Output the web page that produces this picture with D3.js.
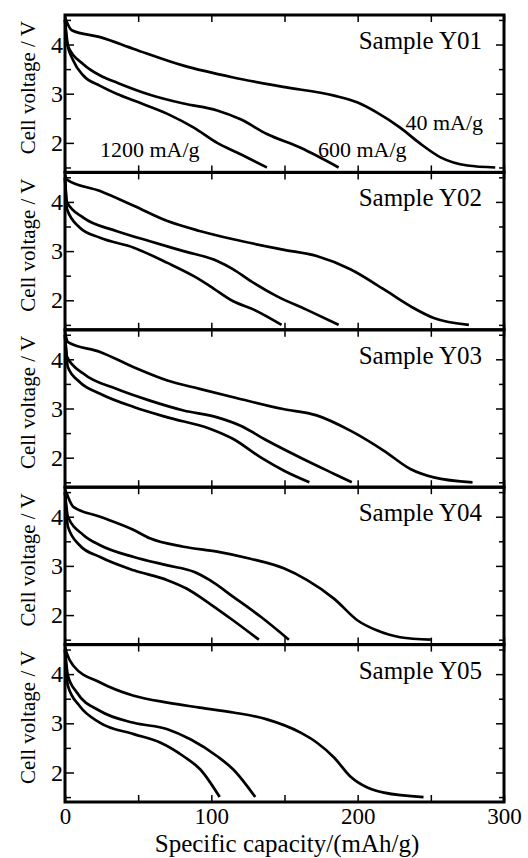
<!DOCTYPE html>
<html>
<head>
<meta charset="utf-8">
<script src="https://cdn.jsdelivr.net/npm/d3@7"></script>
<style>
  body { margin: 0; background: #fff; }
</style>
</head>
<body>
<div id="chart"></div>
<script>
// discharge curves: [capacity mAh/g, voltage V]
const samples = ["Sample Y01", "Sample Y02", "Sample Y03", "Sample Y04", "Sample Y05"];
const rates = ["40 mA/g", "600 mA/g", "1200 mA/g"];

const y01_40 = [[0,4.55],[4.6,4.29],[24,4.15],[47,3.91],[81,3.57],[115,3.33],[149,3.14],[184,2.96],[200,2.82],[213,2.62],[229,2.31],[243,1.98],[257,1.70],[275,1.54],[294,1.5]];
const y01_600 = [[0,4.5],[2.3,3.95],[12.5,3.6],[24,3.37],[36,3.22],[58,2.98],[81,2.8],[104,2.66],[120,2.48],[138,2.18],[161,1.9],[187,1.5]];
const y01_1200 = [[0,4.5],[1.1,4.08],[5.7,3.67],[12.5,3.37],[24,3.16],[36,2.99],[47,2.86],[70,2.59],[88,2.31],[104,2.0],[120,1.77],[138,1.5]];

const y02_40 = [[0,4.55],[1,4.46],[24,4.22],[47,3.92],[70,3.61],[92,3.41],[115,3.24],[149,3.03],[172,2.9],[195,2.63],[218,2.22],[236,1.88],[252,1.64],[276,1.5]];
const y02_600 = [[0,4.5],[1.4,3.99],[12.5,3.68],[35,3.41],[58,3.2],[81,3.0],[104,2.8],[115,2.63],[127,2.39],[145,2.08],[165,1.81],[187,1.5]];
const y02_1200 = [[0,4.5],[1.4,3.85],[10,3.48],[24,3.27],[47,3.07],[70,2.76],[88,2.49],[99,2.29],[115,1.98],[129,1.81],[148,1.5]];

const y03_40 = [[0,4.55],[2,4.35],[24,4.15],[47,3.84],[70,3.57],[92,3.4],[115,3.23],[149,2.99],[172,2.86],[195,2.55],[218,2.14],[236,1.77],[252,1.6],[278.5,1.5]];
const y03_600 = [[0,4.5],[1.4,4.05],[12.5,3.71],[35,3.4],[58,3.16],[81,2.96],[104,2.82],[120,2.65],[138,2.35],[161,2.0],[184,1.67],[196,1.5]];
const y03_1200 = [[0,4.5],[2,3.84],[10,3.54],[24,3.3],[47,3.03],[70,2.82],[99,2.59],[115,2.38],[134,2.0],[150,1.73],[167,1.5]];

const y04_40 = [[0,4.55],[1,4.48],[5.7,4.2],[24,4.0],[47,3.73],[58,3.56],[81,3.39],[104,3.29],[126,3.15],[149.5,2.95],[165.5,2.71],[184,2.33],[200,1.89],[213,1.69],[229,1.55],[250,1.5]];
const y04_600 = [[0,4.5],[2,4.0],[12.5,3.63],[24,3.42],[47,3.18],[70,3.01],[88,2.88],[99,2.71],[115,2.37],[134,1.96],[153,1.5]];
const y04_1200 = [[0,4.5],[2,3.8],[10,3.42],[24,3.18],[47,2.91],[70,2.71],[83,2.54],[99,2.23],[115,1.89],[132.5,1.5]];

const y05_40 = [[0,4.55],[1,4.44],[5.7,4.17],[24,3.83],[47,3.56],[70,3.42],[92,3.32],[115,3.22],[138,3.08],[161,2.81],[172,2.61],[184,2.3],[195,1.92],[207,1.69],[218,1.59],[245,1.5]];
const y05_600 = [[0,4.5],[2,3.97],[8,3.63],[24,3.25],[47,3.01],[70,2.88],[86,2.67],[104,2.33],[115,2.06],[130,1.5]];
const y05_1200 = [[0,4.5],[2,3.76],[10,3.35],[24,3.01],[47,2.78],[65,2.61],[81,2.33],[92.5,2.06],[105.7,1.5]];

const curves = [
  [y01_40, y01_600, y01_1200],
  [y02_40, y02_600, y02_1200],
  [y03_40, y03_600, y03_1200],
  [y04_40, y04_600, y04_1200],
  [y05_40, y05_600, y05_1200]
];

const xTicks = [0, 50, 100, 150, 200, 250, 300];
const yTicks = [1.5, 2, 2.5, 3, 3.5, 4, 4.5];

const width = 528;
const height = 858;
const left = 65, right = 504;
const top0 = 15;
const panelH = 157.4;
const serif = "Liberation Serif";

const svg = d3.select("#chart")
  .append("svg")
  .attr("width", width)
  .attr("height", height)
  .attr("font-family", serif);

const x = d3.scaleLinear().domain([0, 300]).range([left, right]);

const line = d3.line()
  .x(d => x(d[0]))
  .curve(d3.curveMonotoneX);

samples.forEach(function (name, i) {
  const t = top0 + i * panelH;
  const b = t + panelH;
  const y = d3.scaleLinear().domain([1.4, 4.6]).range([b, t]);
  const g = svg.append("g");

  // curves
  curves[i].forEach(function (c) {
    g.append("path")
      .datum(c)
      .attr("d", line.y(d => y(d[1])))
      .attr("fill", "none")
      .attr("stroke", "#000")
      .attr("stroke-width", 2.7)
      .attr("stroke-linejoin", "round");
  });

  // axes, ticks inward on all sides
  const isMajor = d => Number.isInteger(d);
  const leftAx = g.append("g")
    .attr("transform", "translate(" + left + ",0)")
    .call(d3.axisLeft(y).tickValues(yTicks).tickSize(-6).tickPadding(2)
      .tickFormat(d => isMajor(d) ? d : ""));
  leftAx.selectAll(".tick line").attr("x2", d => isMajor(d) ? 9 : 6);
  leftAx.selectAll("text").attr("font-size", 24);

  const rightAx = g.append("g")
    .attr("transform", "translate(" + right + ",0)")
    .call(d3.axisRight(y).tickValues(yTicks).tickSize(-6).tickFormat(""));
  rightAx.selectAll(".tick line").attr("x2", d => isMajor(d) ? -8 : -5);

  g.append("g")
    .attr("transform", "translate(0," + t + ")")
    .call(d3.axisTop(x).tickValues(xTicks).tickSize(-7).tickFormat(""));

  const bottomAx = g.append("g")
    .attr("transform", "translate(0," + b + ")")
    .call(d3.axisBottom(x).tickValues(xTicks).tickSize(-7).tickPadding(6)
      .tickFormat(d => (i === samples.length - 1 && d % 100 === 0) ? d : ""));
  bottomAx.selectAll("text").attr("font-size", 23);

  g.selectAll(".domain").remove();
  g.selectAll("g").attr("font-family", serif);
  g.selectAll(".tick line").attr("stroke", "#000").attr("stroke-width", 1.5);

  g.append("rect")
    .attr("x", left).attr("y", t)
    .attr("width", right - left).attr("height", panelH)
    .attr("fill", "none")
    .attr("stroke", "#000")
    .attr("stroke-width", 3);

  g.append("text")
    .attr("x", 482).attr("y", t + 34)
    .attr("text-anchor", "end")
    .attr("font-size", 25)
    .text(name);

  g.append("text")
    .attr("transform", "translate(35," + (t + panelH / 2 - 6) + ")rotate(-90)")
    .attr("text-anchor", "middle")
    .attr("font-size", 21)
    .text("Cell voltage / V");
});

// rate labels in the first panel
const rateLabels = svg.append("g").attr("font-size", 22);
rateLabels.append("text").attr("x", 483).attr("y", 130).attr("text-anchor", "end").text(rates[0]);
rateLabels.append("text").attr("x", 318).attr("y", 157).text(rates[1]);
rateLabels.append("text").attr("x", 100).attr("y", 157).text(rates[2]);

svg.append("text")
  .attr("x", 287).attr("y", 852)
  .attr("text-anchor", "middle")
  .attr("font-size", 25)
  .text("Specific capacity/(mAh/g)");
</script>
</body>
</html>
